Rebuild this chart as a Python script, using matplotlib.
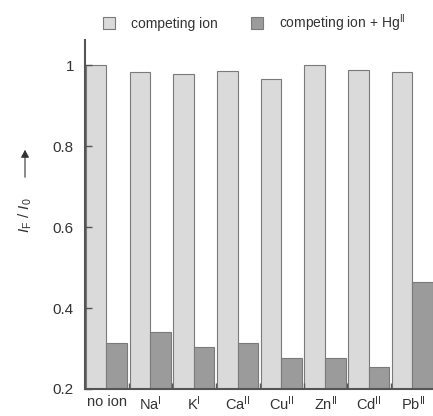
import matplotlib
matplotlib.use("Agg")
import matplotlib.pyplot as plt
import numpy as np

# ions tested and normalised fluorescence ratios
ions = ['no ion', r'Na$^{\mathrm{I}}$', r'K$^{\mathrm{I}}$', r'Ca$^{\mathrm{II}}$',
        r'Cu$^{\mathrm{II}}$', r'Zn$^{\mathrm{II}}$', r'Cd$^{\mathrm{II}}$', r'Pb$^{\mathrm{II}}$']
ion_only = [1.0, 0.983, 0.980, 0.987, 0.967, 1.0, 0.990, 0.985]
ion_plus_hg = [0.314, 0.341, 0.304, 0.314, 0.276, 0.276, 0.255, 0.465]
yticks = [0.2, 0.4, 0.6, 0.8, 1.0]
ytick_labels = ['0.2', '0.4', '0.6', '0.8', '1']

plt.rcParams['font.family'] = ['Liberation Sans', 'DejaVu Sans']
plt.rcParams['mathtext.fontset'] = 'custom'
plt.rcParams['mathtext.rm'] = 'Liberation Sans'
plt.rcParams['mathtext.it'] = 'Liberation Sans:italic'

light = '#dadada'
dark = '#9b9b9b'
edge = '#7a7a7a'
axis_col = '#555555'
text_col = '#333333'

fig = plt.figure(figsize=(4.33, 4.16), dpi=100)
ax = fig.add_axes([85 / 433, 1 - 389 / 416, 1 - 85 / 433, (389 - 40) / 416])

x = np.arange(len(ions))
b1 = ax.bar(x + 0.02, ion_only, width=0.47, bottom=0, align='edge',
            color=light, edgecolor=edge, linewidth=0.8, label='competing ion')
b2 = ax.bar(x + 0.49, ion_plus_hg, width=0.47, bottom=0, align='edge',
            color=dark, edgecolor=edge, linewidth=0.8,
            label=r'competing ion + Hg$^{\mathrm{II}}$')

ax.set_xlim(0, 7.96)
ax.set_ylim(0.2, 1.063)

for side in ['top', 'right']:
    ax.spines[side].set_visible(False)
for side in ['left', 'bottom']:
    ax.spines[side].set_color(axis_col)
    ax.spines[side].set_linewidth(1.5)

ax.set_yticks(yticks)
ax.set_yticklabels(ytick_labels)
ax.tick_params(axis='y', direction='in', length=5, width=1, color=axis_col,
               labelsize=11, labelcolor=text_col, pad=8)

ax.set_xticks(x + 0.5)
ax.set_xticklabels(ions)
ax.set_xticks(np.arange(1, len(ions)), minor=True)
ax.tick_params(axis='x', which='major', length=0, labelsize=10.5,
               labelcolor=text_col, pad=4)
ax.tick_params(axis='x', which='minor', direction='in', length=4, width=1,
               color=axis_col)

# y label with upward arrow
fig.text(25 / 433, 1 - 215 / 416, r'$I_{\mathrm{F}}\ /\ I_{0}$', rotation=90,
         ha='center', va='center', fontsize=11, color=text_col)
fig.add_artist(matplotlib.patches.FancyArrowPatch(
    (25 / 433, 1 - 180 / 416), (25 / 433, 1 - 147 / 416),
    transform=fig.transFigure, arrowstyle='-|>,head_length=3,head_width=1.6',
    color=text_col, linewidth=0.8, mutation_scale=1.5))

fig.legend(handles=[b1, b2], loc='center', bbox_to_anchor=(254 / 433, 1 - 23 / 416),
           ncol=2, frameon=False, fontsize=10, handlelength=0.9, handleheight=0.9,
           handletextpad=1.1, columnspacing=2.4, labelcolor=text_col)

fig.savefig('out.png', dpi=100, facecolor='white')
